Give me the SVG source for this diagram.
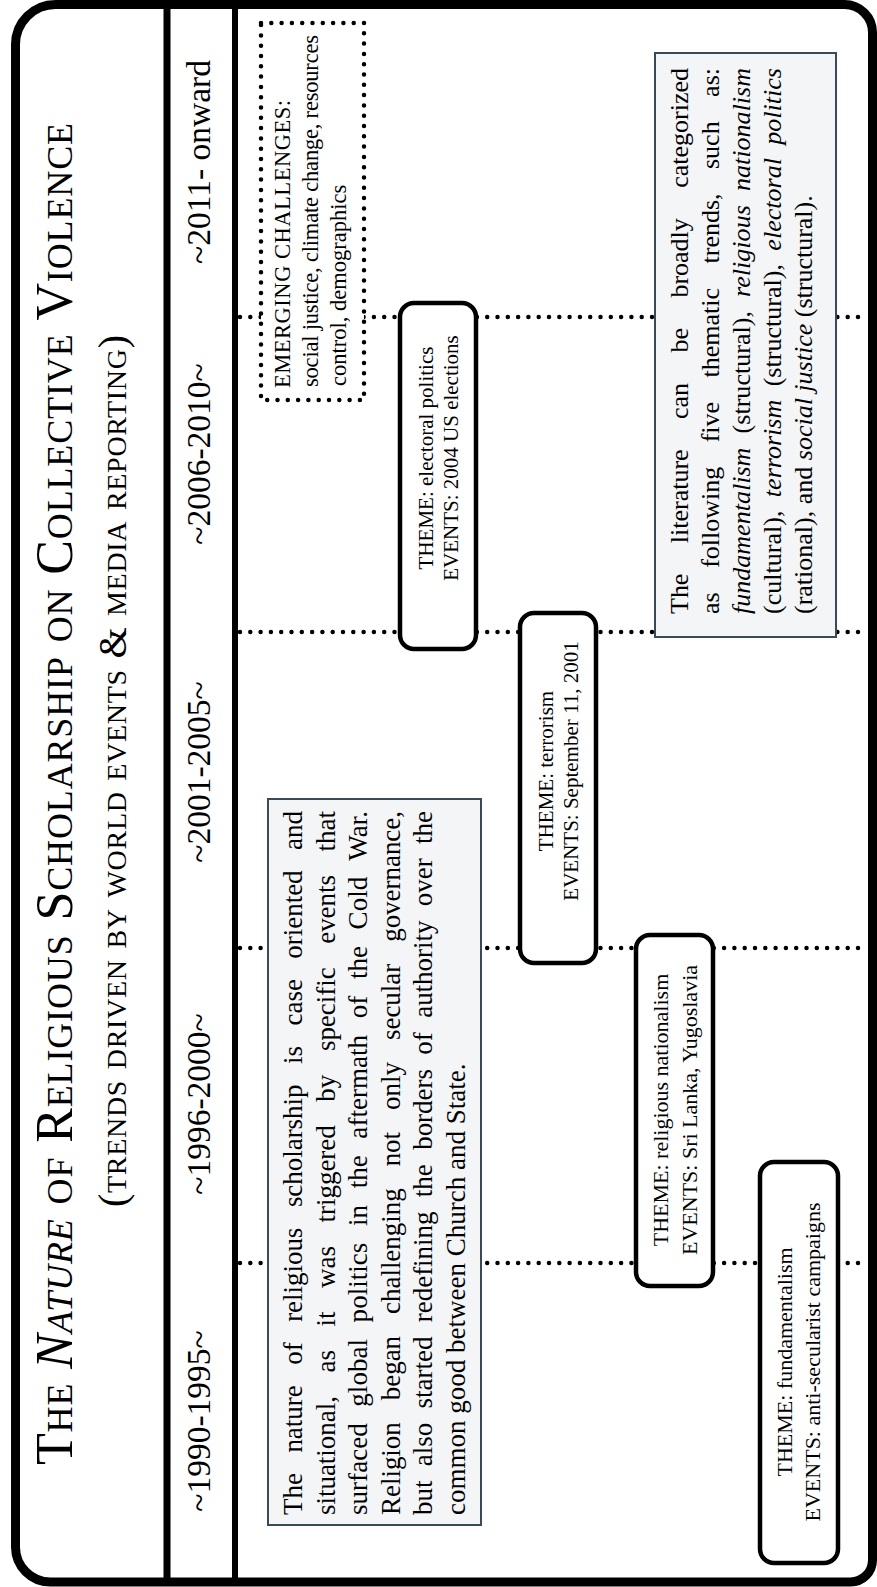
<svg xmlns="http://www.w3.org/2000/svg" width="877" height="1587" viewBox="0 0 877 1587">
<style>
.t { font-family: "Liberation Serif", "Times New Roman", serif; fill: #000; }
.sc { font-variant: small-caps; }
.i { font-style: italic; }
.dot { stroke: #000; stroke-width: 4.5; stroke-dasharray: 0 10.3; stroke-linecap: round; fill: none; }
.ev { fill: #fff; stroke: #000; stroke-width: 4.5; }
.note { fill: #f4f5f7; stroke: #3a4a58; stroke-width: 2; }
.div { stroke: #000; fill: none; }
</style>
<rect width="877" height="1587" fill="#fff"/>

<g id="frame">
<path d="M55.5,4.5 H844.5 A28,28 0 0 1 872.5,32.5 V1560 A22,22 0 0 1 850.5,1582 H50.5 A35,35 0 0 1 15.5,1547 V44.5 A40,40 0 0 1 55.5,4.5 Z" fill="none" stroke="#000" stroke-width="9"/>
<line class="div" x1="167" y1="4.5" x2="167" y2="1582" stroke-width="7"/>
<line class="div" x1="235" y1="4.5" x2="235" y2="1582" stroke-width="6"/>
</g>

<g id="connectors">
<line class="dot" x1="240" y1="317" x2="868" y2="317"/>
<line class="dot" x1="240" y1="632" x2="868" y2="632"/>
<line class="dot" x1="240" y1="948" x2="868" y2="948"/>
<line class="dot" x1="240" y1="1263" x2="868" y2="1263"/>
</g>

<g id="title" transform="rotate(-90)">
<text class="t sc" x="-794" y="72" font-size="52" text-anchor="middle" textLength="1342" lengthAdjust="spacing">The <tspan class="i">Nature</tspan> of Religious Scholarship on Collective Violence</text>
<text class="t sc" x="-771" y="126" font-size="40" text-anchor="middle" textLength="872" lengthAdjust="spacing">(trends driven by world events &amp; media reporting)</text>
</g>

<g id="dates" transform="rotate(-90)" class="t" font-size="33.5" text-anchor="middle">
<text class="t" x="-162" y="210">~2011- onward</text>
<text class="t" x="-454" y="210">~2006-2010~</text>
<text class="t" x="-772" y="210">~2001-2005~</text>
<text class="t" x="-1104" y="210">~1996-2000~</text>
<text class="t" x="-1421" y="210">~1990-1995~</text>
</g>

<g id="emerging">
<rect class="dot" x="261" y="23" width="103" height="377" style="fill:#fff"/>
<g transform="rotate(-90)" class="t" font-size="22.5">
<text class="t" x="-388" y="290" textLength="288" lengthAdjust="spacing">EMERGING CHALLENGES:</text>
<text class="t" x="-387" y="318" textLength="352" lengthAdjust="spacing">social justice, climate change, resources</text>
<text class="t" x="-386" y="346">control, demographics</text>
</g>
</g>

<g id="literature">
<rect class="note" x="655" y="53" width="181" height="584"/>
<g transform="rotate(-90)" class="t" font-size="26">
<text class="t" x="-614" y="688" textLength="546" lengthAdjust="spacing" word-spacing="23.9">The literature can be broadly categorized</text>
<text class="t" x="-614" y="719" textLength="546" lengthAdjust="spacing" word-spacing="18">as following five thematic trends, such as:</text>
<text class="t" x="-614" y="750" textLength="546" lengthAdjust="spacing" word-spacing="7.7"><tspan class="i">fundamentalism</tspan> (structural), <tspan class="i">religious nationalism</tspan></text>
<text class="t" x="-614" y="781" textLength="546" lengthAdjust="spacing" word-spacing="6.9">(cultural), <tspan class="i">terrorism</tspan> (structural), <tspan class="i">electoral politics</tspan></text>
<text class="t" x="-614" y="812">(rational), and <tspan class="i">social justice</tspan> (structural).</text>
</g>
</g>

<g id="scholarship">
<rect class="note" x="268" y="799" width="213" height="726"/>
<g transform="rotate(-90)" class="t" font-size="27">
<text class="t" x="-1515" y="302" textLength="704" lengthAdjust="spacing" word-spacing="13.8">The nature of religious scholarship is case oriented and</text>
<text class="t" x="-1515" y="334.5" textLength="704" lengthAdjust="spacing" word-spacing="16.9">situational, as it was triggered by specific events that</text>
<text class="t" x="-1515" y="367" textLength="704" lengthAdjust="spacing" word-spacing="9.8">surfaced global politics in the aftermath of the Cold War.</text>
<text class="t" x="-1515" y="399.5" textLength="704" lengthAdjust="spacing" word-spacing="15.3">Religion began challenging not only secular governance,</text>
<text class="t" x="-1515" y="432" textLength="704" lengthAdjust="spacing" word-spacing="7.7">but also started redefining the borders of authority over the</text>
<text class="t" x="-1515" y="464.5">common good between Church and State.</text>
</g>
</g>

<g id="electoral">
<rect class="ev" x="400" y="303" width="76" height="346" rx="14"/>
<g transform="rotate(-90)" class="t" font-size="21" text-anchor="middle">
<text class="t" x="-458" y="433">THEME: electoral politics</text>
<text class="t" x="-458" y="458">EVENTS: 2004 US elections</text>
</g>
</g>

<g id="terrorism">
<rect class="ev" x="520" y="613" width="76" height="350" rx="14"/>
<g transform="rotate(-90)" class="t" font-size="21" text-anchor="middle">
<text class="t" x="-771" y="553">THEME: terrorism</text>
<text class="t" x="-771" y="578">EVENTS: September 11, 2001</text>
</g>
</g>

<g id="nationalism">
<rect class="ev" x="636" y="935" width="77" height="351" rx="14"/>
<g transform="rotate(-90)" class="t" font-size="22" text-anchor="middle">
<text class="t" x="-1110" y="668">THEME: religious nationalism</text>
<text class="t" x="-1110" y="697">EVENTS: Sri Lanka, Yugoslavia</text>
</g>
</g>

<g id="fundamentalism">
<rect class="ev" x="760" y="1162" width="78" height="401" rx="14"/>
<g transform="rotate(-90)" class="t" font-size="22" text-anchor="middle">
<text class="t" x="-1362" y="792">THEME: fundamentalism</text>
<text class="t" x="-1362" y="820">EVENTS: anti-secularist campaigns</text>
</g>
</g>
</svg>
